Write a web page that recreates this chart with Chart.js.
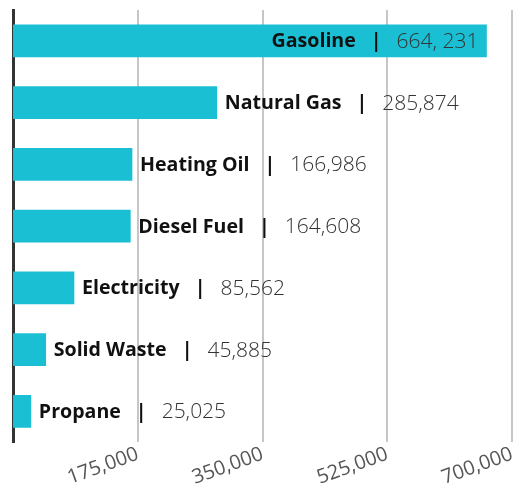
<!DOCTYPE html>
<html>
<head>
<meta charset="utf-8">
<script src="https://cdn.jsdelivr.net/npm/chart.js@4"></script>
<style>
  html, body { margin: 0; padding: 0; background: #fff; }
  #wrap { width: 517px; height: 490px; }
</style>
</head>
<body>
<div id="wrap"><canvas id="c"></canvas></div>
<script>
// categories + values, top to bottom
const categories = ['Gasoline', 'Natural Gas', 'Heating Oil', 'Diesel Fuel', 'Electricity', 'Solid Waste', 'Propane'];
const values     = [664231, 285874, 166986, 164608, 85562, 45885, 25025];
const valueText  = ['664, 231', '285,874', '166,986', '164,608', '85,562', '45,885', '25,025'];
const tickValues = [175000, 350000, 525000, 700000];

const BAR = '#1bbfd3';
const FONT = "'Open Sans', 'Noto Sans', sans-serif";
const NAME_FONT = `bold 19.6px ${FONT}`;
const VAL_FONT = `300 21px ${FONT}`;

// draws "Name | value" next to each bar (inside for the longest one)
const barLabels = {
  id: 'barLabels',
  afterDatasetsDraw(chart){
    const ctx = chart.ctx;
    const meta = chart.getDatasetMeta(0);
    ctx.save();
    ctx.textBaseline = 'middle';
    ctx.textAlign = 'left';
    meta.data.forEach((bar, i) => {
      const name = categories[i];
      const val = valueText[i];
      ctx.font = NAME_FONT;
      const wName = ctx.measureText(name).width;
      const wPipe = ctx.measureText('|').width;
      ctx.font = VAL_FONT;
      const wVal = ctx.measureText(val).width;
      const gap1 = 15, gap2 = 15;
      const total = wName + gap1 + wPipe + gap2 + wVal;
      let x = bar.x + 8;
      if (i === 0) x = bar.x - 8 - total;
      const y = bar.y + 1;
      ctx.fillStyle = '#111';
      ctx.font = NAME_FONT;
      ctx.fillText(name, x, y);
      ctx.fillText('|', x + wName + gap1, y);
      ctx.fillStyle = '#333';
      ctx.font = VAL_FONT;
      ctx.fillText(val, x + wName + gap1 + wPipe + gap2, y);
    });
    ctx.restore();
  }
};

new Chart(document.getElementById('c'), {
  type: 'bar',
  data: {
    labels: categories,
    datasets: [{
      data: values,
      backgroundColor: BAR,
      borderWidth: 0,
      barThickness: 32,
    }]
  },
  options: {
    indexAxis: 'y',
    responsive: true,
    maintainAspectRatio: false,
    animation: false,
    layout: { padding: { left: 13, right: 0, top: 10, bottom: 0 } },
    plugins: { legend: { display: false }, tooltip: { enabled: false } },
    scales: {
      x: {
        min: 0, max: 700000,
        afterBuildTicks: axis => { axis.ticks = tickValues.map(v => ({ value: v })); },
        // rotated last label ends at its tick, so no extra right room needed
        afterFit: s => { s.paddingRight = 5; },
        ticks: {
          minRotation: 20, maxRotation: 20,
          padding: 0,
          color: '#555',
          font: { family: FONT, size: 20 },
          callback: v => v.toLocaleString('en-US'),
        },
        grid: { color: '#c6c6c6', lineWidth: 2, drawTicks: false },
        border: { display: false },
      },
      y: {
        ticks: { display: false },
        grid: { display: false, drawTicks: false },
        border: { color: '#333', width: 3 },
      }
    }
  },
  plugins: [barLabels],
});
</script>
</body>
</html>
